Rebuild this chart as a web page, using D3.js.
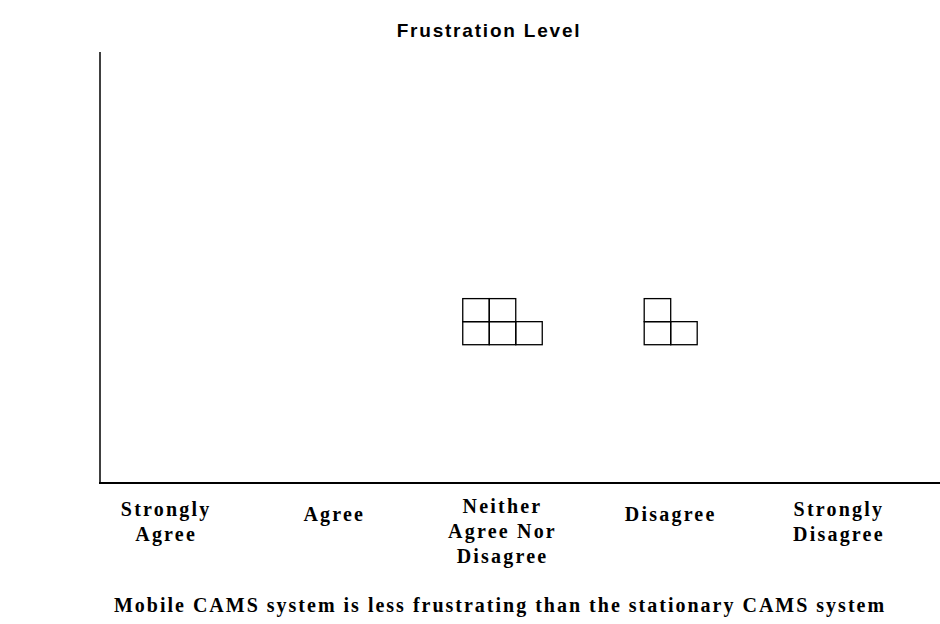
<!DOCTYPE html>
<html>
<head>
<meta charset="utf-8">
<script src="https://cdn.jsdelivr.net/npm/d3@7"></script>
<style>
  body { margin: 0; background: #fff; }
  svg { display: block; }
</style>
</head>
<body>
<svg width="940" height="624"></svg>
<script>
// responses per category (one square = one respondent)
var categories = ["Strongly Agree", "Agree", "Neither Agree Nor Disagree", "Disagree", "Strongly Disagree"],
    labelLines = [["Strongly", "Agree"], ["Agree"], ["Neither", "Agree Nor", "Disagree"], ["Disagree"], ["Strongly", "Disagree"]],
    counts = [0, 0, 5, 3, 0],
    perColumn = 2,      // squares stacked per column
    baseLevel = 6;      // level (in square units) where the stacks sit

var svg = d3.select("svg"),
    width = +svg.attr("width"),
    height = +svg.attr("height"),
    plotLeft = 100, plotTop = 52, plotBottom = 483;

var x = d3.scaleBand()
    .domain(categories)
    .range([82, 923]);

var y = d3.scaleLinear()
    .domain([0, 18.7])
    .range([plotBottom, plotTop]);

var cellW = 26.5,
    cellH = y(0) - y(1);

// title
svg.append("text")
    .attr("x", 489)
    .attr("y", 37)
    .attr("text-anchor", "middle")
    .style("font-family", "Liberation Sans, Arial, sans-serif")
    .style("font-weight", "bold")
    .style("font-size", "19px")
    .style("letter-spacing", "1.8px")
    .text("Frustration Level");

// axes lines
svg.append("line")
    .attr("x1", plotLeft).attr("x2", plotLeft)
    .attr("y1", plotTop).attr("y2", plotBottom)
    .attr("stroke", "#000").attr("stroke-width", 1.5);

svg.append("line")
    .attr("x1", plotLeft - 1).attr("x2", width)
    .attr("y1", plotBottom).attr("y2", plotBottom)
    .attr("stroke", "#000").attr("stroke-width", 2);

// build one cell per response
var cells = [];
categories.forEach(function(c, i) {
    var n = counts[i],
        cols = Math.ceil(n / perColumn);
    for (var k = 0; k < n; k++) {
        cells.push({
            cat: c,
            col: Math.floor(k / perColumn),
            row: k % perColumn,
            cols: cols
        });
    }
});

svg.append("g")
    .attr("class", "cells")
    .selectAll("rect")
    .data(cells)
    .enter().append("rect")
    .attr("x", function(d) { return x(d.cat) + x.bandwidth() / 2 - d.cols * cellW / 2 + d.col * cellW; })
    .attr("y", function(d) { return y(baseLevel + d.row + 1); })
    .attr("width", cellW)
    .attr("height", cellH)
    .attr("fill", "none")
    .attr("stroke", "#000")
    .attr("stroke-width", 1.3);

// category labels
var lineH = 25;
var labels = svg.append("g")
    .selectAll("text")
    .data(categories)
    .enter().append("text")
    .attr("text-anchor", "middle")
    .style("font-family", "Liberation Serif, Times New Roman, serif")
    .style("font-weight", "bold")
    .style("font-size", "20px")
    .style("letter-spacing", "2.2px")
    .attr("transform", function(d, i) {
        var n = labelLines[i].length;
        return "translate(" + (x(d) + x.bandwidth() / 2) + "," + (n == 1 ? 521 : n == 2 ? 516 : 513) + ")";
    });

labels.selectAll("tspan")
    .data(function(d, i) { return labelLines[i]; })
    .enter().append("tspan")
    .attr("x", 0)
    .attr("y", function(d, j) { return j * lineH; })
    .text(function(d) { return d; });

// statement below the chart
svg.append("text")
    .attr("x", 500)
    .attr("y", 612)
    .attr("text-anchor", "middle")
    .style("font-family", "Liberation Serif, Times New Roman, serif")
    .style("font-weight", "bold")
    .style("font-size", "20px")
    .style("letter-spacing", "2px")
    .text("Mobile CAMS system is less frustrating than the stationary CAMS system");
</script>
</body>
</html>
